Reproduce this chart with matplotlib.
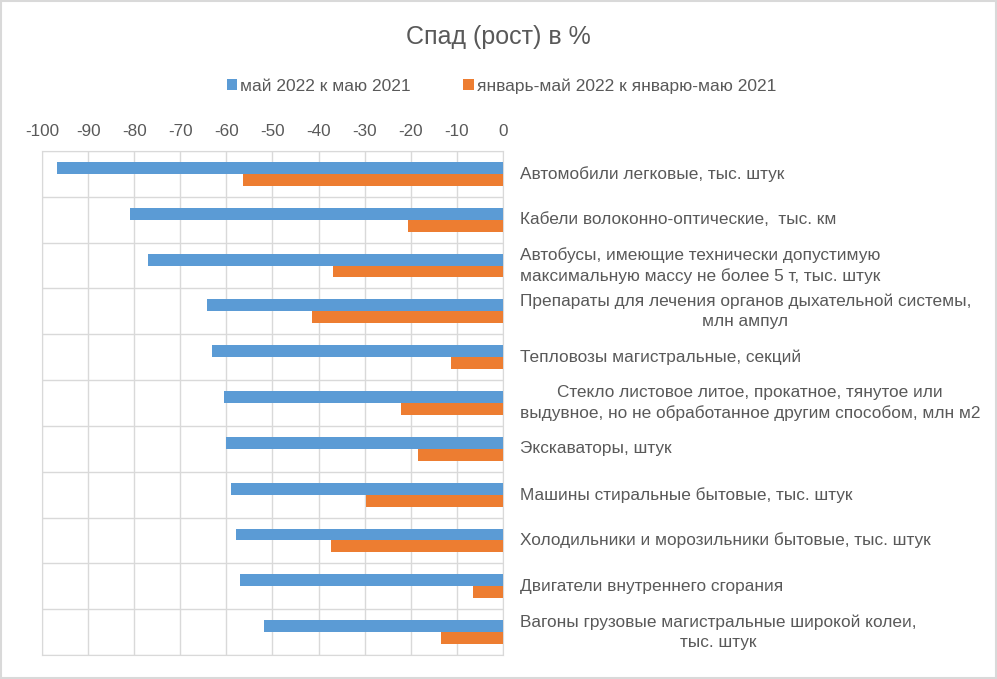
import matplotlib.pyplot as plt
import numpy as np
from matplotlib.patches import Rectangle

categories = [
    'Автомобили легковые, тыс. штук',
    'Кабели волоконно-оптические,  тыс. км',
    'Автобусы, имеющие технически допустимую\nмаксимальную массу не более 5 т, тыс. штук',
    'Препараты для лечения органов дыхательной системы,\nмлн ампул',
    'Тепловозы магистральные, секций',
    'Стекло листовое литое, прокатное, тянутое или\nвыдувное, но не обработанное другим способом, млн м2',
    'Экскаваторы, штук',
    'Машины стиральные бытовые, тыс. штук',
    'Холодильники и морозильники бытовые, тыс. штук',
    'Двигатели внутреннего сгорания',
    'Вагоны грузовые магистральные широкой колеи,\nтыс. штук',
]
may_2022 = [-96.8, -80.8, -77.1, -64.3, -63.2, -60.6, -60.0, -59.1, -58.0, -57.0, -51.8]
jan_may_2022 = [-56.3, -20.6, -36.8, -41.4, -11.3, -22.1, -18.4, -29.7, -37.3, -6.5, -13.4]
series_names = ['май 2022 к маю 2021', 'январь-май 2022 к январю-маю 2021']
xticks = list(range(-100, 1, 10))

blue = '#5B9BD5'
orange = '#ED7D31'
grid = '#D9D9D9'
txt = '#595959'

plt.rcParams['font.family'] = ['Liberation Sans', 'DejaVu Sans']

fig = plt.figure(figsize=(9.97, 6.79), dpi=100)
ax = fig.add_axes([0.0421, 0.0353, 0.4624, 0.7423])

y = np.arange(len(categories))
h = 0.26
ax.barh(y - h / 2, may_2022, height=h, color=blue, label=series_names[0], zorder=3)
ax.barh(y + h / 2, jan_may_2022, height=h, color=orange, label=series_names[1], zorder=3)

ax.set_xlim(-100, 0)
ax.set_ylim(len(categories) - 0.5, -0.5)
ax.set_xticks(xticks)
ax.set_xticklabels([str(t) for t in xticks])
ax.xaxis.tick_top()
ax.tick_params(axis='x', length=0, pad=9, labelsize=12.3, colors=txt)
ax.set_yticks([])
ax.grid(axis='x', color=grid, lw=1, zorder=0)
for b in np.arange(-0.5, len(categories), 1):
    ax.axhline(b, color=grid, lw=1, zorder=0)
for s in ax.spines.values():
    s.set_color(grid)

for i, c in enumerate(categories):
    ax.text(1.036, i, c, transform=ax.get_yaxis_transform(), ha='left', va='center',
            multialignment='center', fontsize=12.4, color=txt, linespacing=1.38)

fig.text(0.5, 0.945, 'Спад (рост) в %', ha='center', va='center', fontsize=18, color=txt)
fig.legend(loc='center', bbox_to_anchor=(0.503, 0.873), ncol=2, frameon=False,
           fontsize=12.5, labelcolor=txt, handlelength=0.6, handleheight=0.6,
           handletextpad=0.2, columnspacing=3.0)

fig.add_artist(Rectangle((0.001, 0.001), 0.998, 0.998, transform=fig.transFigure,
                         fill=False, edgecolor=grid, lw=1.5))

fig.savefig('out.png', dpi=100)
